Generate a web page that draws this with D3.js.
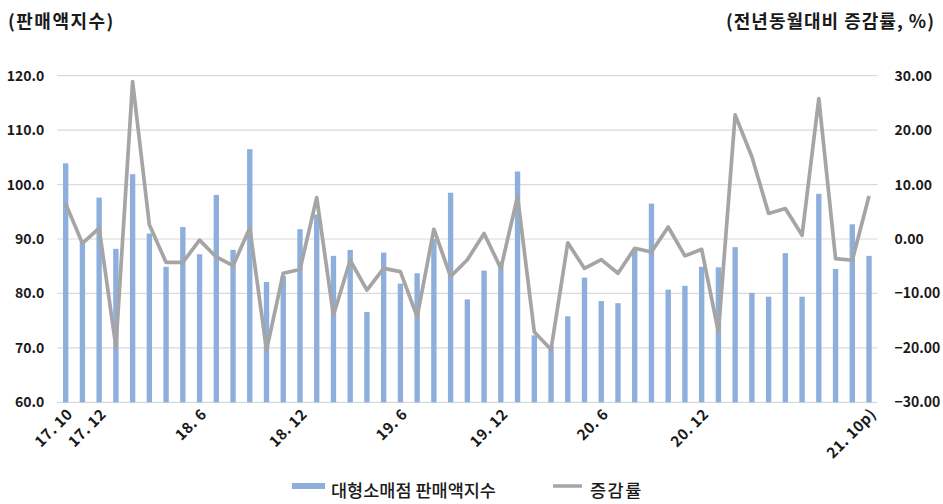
<!DOCTYPE html>
<html>
<head>
<meta charset="utf-8">
<script src="https://cdn.jsdelivr.net/npm/d3@7"></script>
<style>
  html, body { margin: 0; padding: 0; background: #ffffff; }
  svg { display: block; }
  text { font-family: "Noto Sans CJK KR", "Noto Sans", sans-serif; fill: #1a1a1a; }
</style>
</head>
<body>
<svg id="chart" width="943" height="504"></svg>
<script>
// ---- data ----
const months = [
  "17. 10","17. 11","17. 12","18. 1","18. 2","18. 3","18. 4","18. 5","18. 6","18. 7","18. 8","18. 9",
  "18. 10","18. 11","18. 12","19. 1","19. 2","19. 3","19. 4","19. 5","19. 6","19. 7","19. 8","19. 9",
  "19. 10","19. 11","19. 12","20. 1","20. 2","20. 3","20. 4","20. 5","20. 6","20. 7","20. 8","20. 9",
  "20. 10","20. 11","20. 12","21. 1","21. 2","21. 3","21. 4","21. 5","21. 6","21. 7","21. 8","21. 9",
  "21. 10p)"
];
const salesIndex = [
  103.9, 89.5, 97.6, 88.2, 101.9, 91.0, 84.9, 92.2, 87.2, 98.1, 88.0, 106.5,
  82.1, 83.2, 91.8, 94.5, 86.9, 88.0, 76.6, 87.5, 81.8, 83.7, 90.0, 98.5,
  78.9, 84.2, 85.8, 102.4, 72.3, 70.3, 75.8, 82.9, 78.6, 78.2, 88.1, 96.5,
  80.7, 81.4, 84.9, 84.8, 88.5, 80.1, 79.4, 87.4, 79.4, 98.3, 84.5, 92.7,
  86.9
];
const changeRate = [
  6.5, -0.8, 2.0, -19.8, 28.9, 2.6, -4.3, -4.3, -0.2, -3.3, -4.9, 2.0,
  -20.4, -6.3, -5.6, 7.6, -14.0, -3.9, -9.4, -5.4, -6.0, -14.3, 1.8, -6.9,
  -3.8, 1.0, -5.4, 7.8, -17.1, -20.3, -0.7, -5.4, -3.8, -6.3, -1.7, -2.4,
  2.2, -3.1, -1.9, -17.1, 22.8, 15.1, 4.7, 5.6, 0.7, 25.8, -3.6, -3.9,
  7.9
];
const xTickLabels = ["17. 10","17. 12","18. 6","18. 12","19. 6","19. 12","20. 6","20. 12","21. 10p)"];
const leftTicks = [60, 70, 80, 90, 100, 110, 120];
const rightTicks = [-30, -20, -10, 0, 10, 20, 30];
const seriesNames = ["대형소매점 판매액지수", "증감률"];
const leftUnit = "(판매액지수)";
const rightUnit = "(전년동월대비 증감률, %)";

// ---- layout ----
const svg = d3.select("#chart");
const plot = { left: 57.3, right: 877.4, top: 75.7, bottom: 402.3 };
const barColor = "#8eaedb";
const lineColor = "#a5a5a5";
const gridColor = "#d9d9d9";
const FONT = '"Noto Sans CJK KR", sans-serif';

const x = d3.scaleBand()
  .domain(months)
  .range([plot.left, plot.right])
  .paddingInner(0.68)
  .paddingOuter(0.34);
const yL = d3.scaleLinear().domain([60, 120]).range([plot.bottom, plot.top]);
const yR = d3.scaleLinear().domain([-30, 30]).range([plot.bottom, plot.top]);
const cx = m => x(m) + x.bandwidth() / 2;

// gridlines
svg.append("g")
  .selectAll("line")
  .data(leftTicks)
  .join("line")
  .attr("x1", plot.left).attr("x2", plot.right)
  .attr("y1", d => yL(d)).attr("y2", d => yL(d))
  .attr("stroke", gridColor).attr("stroke-width", 1.2);

// left axis
const axL = svg.append("g")
  .attr("transform", `translate(${plot.left},0)`)
  .call(d3.axisLeft(yL).tickValues(leftTicks).tickFormat(d3.format(".1f")).tickSize(0).tickPadding(13));
axL.select(".domain").remove();
axL.selectAll("text").attr("font-size", 14).attr("font-weight", 700).style("font-family", FONT).attr("fill", "#1a1a1a");

// right axis
const axR = svg.append("g")
  .attr("transform", `translate(${plot.right},0)`)
  .call(d3.axisRight(yR).tickValues(rightTicks).tickFormat(d3.format(".2f")).tickSize(0).tickPadding(17));
axR.select(".domain").remove();
axR.selectAll("text").attr("font-size", 14).attr("font-weight", 700).style("font-family", FONT).attr("fill", "#1a1a1a");

// bars
svg.append("g")
  .selectAll("rect")
  .data(months)
  .join("rect")
  .attr("x", d => x(d))
  .attr("width", x.bandwidth())
  .attr("y", (d, i) => yL(salesIndex[i]))
  .attr("height", (d, i) => yL(60) - yL(salesIndex[i]))
  .attr("fill", barColor);

// line
const line = d3.line()
  .x((d, i) => cx(months[i]))
  .y(d => yR(d));
svg.append("path")
  .datum(changeRate)
  .attr("d", line)
  .attr("fill", "none")
  .attr("stroke", lineColor)
  .attr("stroke-width", 3.7)
  .attr("stroke-linejoin", "round");

// x axis labels, rotated -45 degrees
const axX = svg.append("g")
  .attr("transform", `translate(0,${plot.bottom})`)
  .call(d3.axisBottom(x).tickValues(xTickLabels).tickSize(0).tickPadding(0));
axX.select(".domain").remove();
axX.selectAll(".tick text")
  .attr("font-size", 15).attr("font-weight", 700)
  .style("font-family", FONT)
  .attr("fill", "#1a1a1a")
  .attr("text-anchor", "end")
  .attr("letter-spacing", 0.4)
  .attr("x", 0).attr("y", 0).attr("dy", null)
  .attr("transform", "translate(8,13) rotate(-45)");

// unit labels
svg.append("text").attr("x", 8).attr("y", 28)
  .attr("font-size", 18).attr("font-weight", 700).attr("letter-spacing", 1.5).text(leftUnit);
svg.append("text").attr("x", 935).attr("y", 28).attr("text-anchor", "end")
  .attr("font-size", 18).attr("font-weight", 700).attr("letter-spacing", 1).text(rightUnit);

// legend
const lg = svg.append("g");
lg.append("rect").attr("x", 292).attr("y", 483).attr("width", 33).attr("height", 6).attr("fill", barColor);
lg.append("text").attr("x", 331).attr("y", 497).attr("font-size", 17.5).attr("font-weight", 500).text(seriesNames[0]);
lg.append("line").attr("x1", 553).attr("x2", 582).attr("y1", 486).attr("y2", 486)
  .attr("stroke", lineColor).attr("stroke-width", 3.5);
lg.append("text").attr("x", 590).attr("y", 497).attr("font-size", 17.5).attr("font-weight", 500)
  .attr("letter-spacing", 1.5).text(seriesNames[1]);
</script>
</body>
</html>
